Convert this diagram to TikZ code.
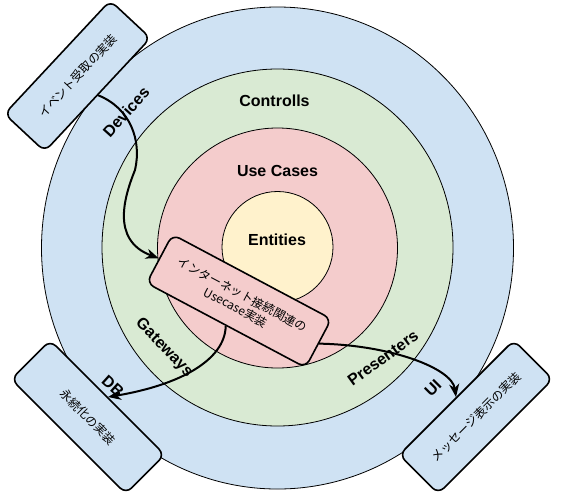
\documentclass[tikz,border=0pt]{standalone}
\usepackage{fontspec}
\setmainfont{Liberation Sans}
\newfontfamily\jp{Noto Sans CJK JP}
\usetikzlibrary{arrows.meta}
\definecolor{cblue}{RGB}{207,226,243}
\definecolor{cgreen}{RGB}{217,234,211}
\definecolor{cpink}{RGB}{244,204,204}
\definecolor{cyellow}{RGB}{255,242,204}
\begin{document}
\begin{tikzpicture}[x=1pt,y=-1pt,
  ring/.style={draw=black, line width=0.8pt},
  lbl/.style={font=\fontsize{16}{18}\selectfont\bfseries, inner sep=0pt},
  impl/.style={draw=black, line width=1.6pt, rounded corners=8pt,
    font=\jp\fontsize{12}{14.5}\selectfont, align=center, inner sep=0pt,
    minimum height=55pt},
  flow/.style={line width=2pt, -{Stealth[length=13pt,width=10pt,inset=4pt]}}
]
\useasboundingbox (0,0) rectangle (569,501);
% rings
\path[ring, fill=cblue] (277.5,248) ellipse [x radius=236pt, y radius=241pt];
\path[ring, fill=cgreen] (277.5,247.5) ellipse [x radius=175.5pt, y radius=178.5pt];
\path[ring, fill=cpink] (277.5,248) circle [radius=120pt];
\path[ring, fill=cyellow] (277.5,247) circle [radius=55.5pt];
% ring labels
\node[lbl] (controlls) at (274.5,101) {Controlls};
\node[lbl] (usecases) at (277.5,171) {Use Cases};
\node[lbl] (entities) at (277,240) {Entities};
\node[lbl, rotate=48] (devices) at (126,112) {Devices};
\node[lbl, rotate=-46] (gateways) at (164,348) {Gateways};
\node[lbl, rotate=36] (presenters) at (383,358) {Presenters};
\node[lbl, rotate=45] (ui) at (433,388) {UI};
\node[lbl, rotate=-42] (db) at (113,386) {DB};
% boxes
\node[impl, fill=cblue, rotate=47, minimum width=155pt] (dev) at (77.5,76) {イベント受取の実装};
\node[impl, fill=cblue, rotate=-45, minimum width=162pt] (per) at (88,417) {永続化の実装};
\node[impl, fill=cblue, rotate=45, minimum width=162pt] (msg) at (476,417) {メッセージ表示の実装};
\node[impl, fill=cpink, rotate=-28, minimum width=180pt] (net) at (239,301) {インターネット接続関連の\\Usecase実装};
% arrows
\draw[flow] (dev.south) .. controls (130,108) and (142,140) .. (135,170)
  .. controls (125,195) and (110,240) .. (net.west);
\draw[flow] (net.south) .. controls (225,360) and (180,385) .. (per.north);
\draw[flow] (net.east) .. controls (390,345) and (452,368) .. (msg.north);
\end{tikzpicture}
\end{document}
